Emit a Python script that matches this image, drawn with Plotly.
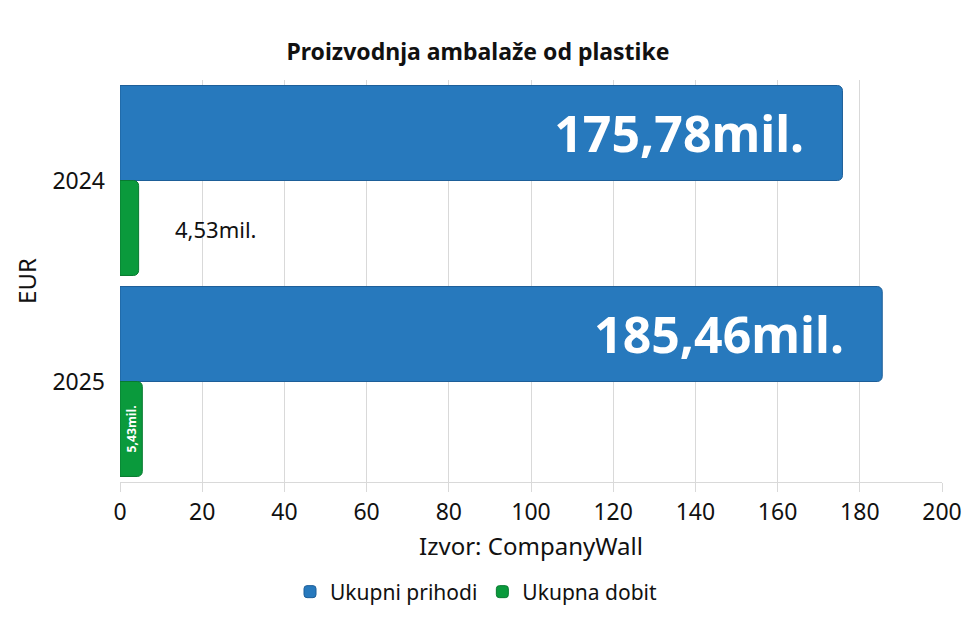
import plotly.graph_objects as go

# data
years = ["2024", "2025"]
prihodi = [175.78, 185.46]   # Ukupni prihodi, mil. EUR
dobit = [4.53, 5.43]         # Ukupna dobit, mil. EUR
dobit_inside = ["", "5,43mil."]   # 2024 label doesn't fit inside the bar

FONT = "Noto Sans"
BLUE = "#2779bd"
GREEN = "#0a9a3c"
GRID = "#d9d9d9"

fig = go.Figure()

fig.add_trace(go.Bar(
    name="Ukupni prihodi",
    y=years,
    x=prihodi,
    orientation="h",
    marker=dict(color=BLUE, line=dict(color="#1d5e98", width=1), cornerradius=5),
    texttemplate="%{x:.2f}mil.\u2002\u2009",
    textposition="inside",
    insidetextanchor="end",
    textangle=0,
    insidetextfont=dict(family=FONT, size=50, color="white", weight="bold"),
    hoverinfo="skip",
))

fig.add_trace(go.Bar(
    name="Ukupna dobit",
    y=years,
    x=dobit,
    orientation="h",
    marker=dict(color=GREEN, line=dict(color="#087a30", width=1), cornerradius=5),
    text=dobit_inside,
    texttemplate="%{text}",
    textposition="inside",
    insidetextanchor="middle",
    textangle=-90,
    insidetextfont=dict(family=FONT, size=15, color="white", weight="bold"),
    hoverinfo="skip",
))

# outside label for the small 2024 profit bar (y given as category index)
fig.add_annotation(
    x=dobit[0], y=0, xref="x", yref="y", text="4,53mil.",
    xanchor="left", xshift=34, yshift=-48,
    showarrow=False, font=dict(family=FONT, size=22, color="#111"),
)

# the page body has an 8px margin, so positions below are shifted by 8px
fig.update_layout(
    width=980,
    height=630,
    margin=dict(l=112, r=46, t=72, b=156),
    barmode="group",
    bargap=0.055,
    bargroupgap=0,
    separators=",.",
    plot_bgcolor="white",
    paper_bgcolor="white",
    font=dict(family=FONT, size=22, color="#111"),
    title=dict(
        text="Proizvodnja ambalaže od plastike",
        x=470 / 980, xanchor="center",
        y=1 - 44 / 630, yanchor="middle", yref="container",
        font=dict(family=FONT, size=23, color="#111", weight="bold"),
    ),
    legend=dict(
        orientation="h",
        x=468 / 980, xanchor="center", xref="container",
        y=1 - 584 / 630, yanchor="middle", yref="container",
        font=dict(family=FONT, size=21),
        traceorder="normal",
    ),
    showlegend=True,
)

fig.update_xaxes(
    range=[0, 200],
    dtick=20,
    showgrid=True,
    gridcolor=GRID,
    gridwidth=1,
    zeroline=False,
    showline=True,
    linecolor=GRID,
    ticks="outside",
    ticklen=9,
    tickcolor=GRID,
    tickfont=dict(family=FONT, size=23, color="#111"),
    title=dict(text="Izvor: CompanyWall", standoff=12,
               font=dict(family=FONT, size=24, color="#111")),
    automargin=False,
    fixedrange=True,
)

fig.update_yaxes(
    type="category",
    categoryorder="array",
    categoryarray=years,
    range=[len(years) - 0.5, -0.5],
    showgrid=False,
    showline=False,
    ticks="",
    ticklabelstandoff=14,
    tickfont=dict(family=FONT, size=23, color="#111"),
    title=dict(text="EUR", standoff=8, font=dict(family=FONT, size=24, color="#111")),
    automargin=True,
    fixedrange=True,
)

fig.write_html("out.html")
